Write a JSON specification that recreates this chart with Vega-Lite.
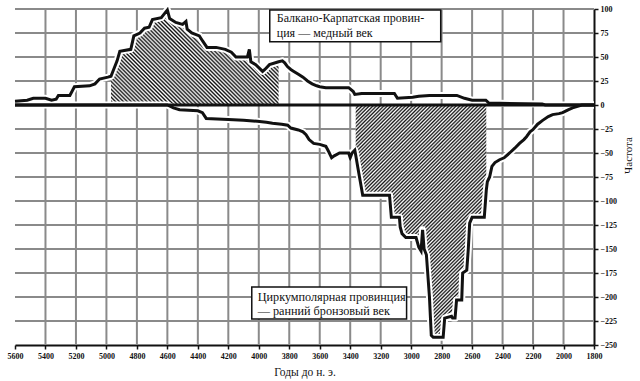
{
  "$schema": "https://vega.github.io/schema/vega-lite/v6.json",
  "width": 579,
  "height": 336,
  "autosize": "none",
  "padding": {"left": 15, "top": 9, "right": 46, "bottom": 36},
  "background": "white",
  "config": {"view": {"stroke": null}},
  "datasets": {
    "gridlines": [
      {"g":"x5400","year":5400,"value":-250},{"g":"x5400","year":5400,"value":100},
      {"g":"x5200","year":5200,"value":-250},{"g":"x5200","year":5200,"value":100},
      {"g":"x5000","year":5000,"value":-250},{"g":"x5000","year":5000,"value":100},
      {"g":"x4800","year":4800,"value":-250},{"g":"x4800","year":4800,"value":100},
      {"g":"x4600","year":4600,"value":-250},{"g":"x4600","year":4600,"value":100},
      {"g":"x4400","year":4400,"value":-250},{"g":"x4400","year":4400,"value":100},
      {"g":"x4200","year":4200,"value":-250},{"g":"x4200","year":4200,"value":100},
      {"g":"x4000","year":4000,"value":-250},{"g":"x4000","year":4000,"value":100},
      {"g":"x3800","year":3800,"value":-250},{"g":"x3800","year":3800,"value":100},
      {"g":"x3600","year":3600,"value":-250},{"g":"x3600","year":3600,"value":100},
      {"g":"x3400","year":3400,"value":-250},{"g":"x3400","year":3400,"value":100},
      {"g":"x3200","year":3200,"value":-250},{"g":"x3200","year":3200,"value":100},
      {"g":"x3000","year":3000,"value":-250},{"g":"x3000","year":3000,"value":100},
      {"g":"x2800","year":2800,"value":-250},{"g":"x2800","year":2800,"value":100},
      {"g":"x2600","year":2600,"value":-250},{"g":"x2600","year":2600,"value":100},
      {"g":"x2400","year":2400,"value":-250},{"g":"x2400","year":2400,"value":100},
      {"g":"x2200","year":2200,"value":-250},{"g":"x2200","year":2200,"value":100},
      {"g":"x2000","year":2000,"value":-250},{"g":"x2000","year":2000,"value":100},
      {"g":"y100","year":5600,"value":100},{"g":"y100","year":1800,"value":100},
      {"g":"y75","year":5600,"value":75},{"g":"y75","year":1800,"value":75},
      {"g":"y50","year":5600,"value":50},{"g":"y50","year":1800,"value":50},
      {"g":"y25","year":5600,"value":25},{"g":"y25","year":1800,"value":25},
      {"g":"y-25","year":5600,"value":-25},{"g":"y-25","year":1800,"value":-25},
      {"g":"y-50","year":5600,"value":-50},{"g":"y-50","year":1800,"value":-50},
      {"g":"y-75","year":5600,"value":-75},{"g":"y-75","year":1800,"value":-75},
      {"g":"y-100","year":5600,"value":-100},{"g":"y-100","year":1800,"value":-100},
      {"g":"y-125","year":5600,"value":-125},{"g":"y-125","year":1800,"value":-125},
      {"g":"y-150","year":5600,"value":-150},{"g":"y-150","year":1800,"value":-150},
      {"g":"y-175","year":5600,"value":-175},{"g":"y-175","year":1800,"value":-175},
      {"g":"y-200","year":5600,"value":-200},{"g":"y-200","year":1800,"value":-200},
      {"g":"y-225","year":5600,"value":-225},{"g":"y-225","year":1800,"value":-225}
    ],
    "lines": [
      {"series":"bk","year":5600,"value":4},{"series":"bk","year":5520,"value":5},{"series":"bk","year":5480,"value":7},{"series":"bk","year":5400,"value":7},{"series":"bk","year":5360,"value":5},{"series":"bk","year":5330,"value":6},{"series":"bk","year":5315,"value":10},{"series":"bk","year":5240,"value":10},{"series":"bk","year":5210,"value":19},{"series":"bk","year":5110,"value":20},{"series":"bk","year":5075,"value":22},{"series":"bk","year":5045,"value":27},{"series":"bk","year":4990,"value":29},{"series":"bk","year":4970,"value":30},{"series":"bk","year":4950,"value":38},{"series":"bk","year":4930,"value":46},{"series":"bk","year":4912,"value":56},{"series":"bk","year":4840,"value":58},{"series":"bk","year":4820,"value":72},{"series":"bk","year":4780,"value":75},{"series":"bk","year":4750,"value":80},{"series":"bk","year":4720,"value":81},{"series":"bk","year":4698,"value":89},{"series":"bk","year":4640,"value":91},{"series":"bk","year":4610,"value":97},{"series":"bk","year":4600,"value":99},{"series":"bk","year":4585,"value":90},{"series":"bk","year":4545,"value":86},{"series":"bk","year":4500,"value":84},{"series":"bk","year":4478,"value":87},{"series":"bk","year":4470,"value":79},{"series":"bk","year":4440,"value":75},{"series":"bk","year":4390,"value":72},{"series":"bk","year":4370,"value":67},{"series":"bk","year":4340,"value":60},{"series":"bk","year":4280,"value":60},{"series":"bk","year":4220,"value":58},{"series":"bk","year":4180,"value":55},{"series":"bk","year":4150,"value":50},{"series":"bk","year":4075,"value":50},{"series":"bk","year":4062,"value":58},{"series":"bk","year":4052,"value":45},{"series":"bk","year":4020,"value":42},{"series":"bk","year":3975,"value":35},{"series":"bk","year":3960,"value":37},{"series":"bk","year":3930,"value":42},{"series":"bk","year":3870,"value":45},{"series":"bk","year":3845,"value":46},{"series":"bk","year":3830,"value":44},{"series":"bk","year":3812,"value":40},{"series":"bk","year":3790,"value":37},{"series":"bk","year":3770,"value":35},{"series":"bk","year":3740,"value":32},{"series":"bk","year":3710,"value":29},{"series":"bk","year":3680,"value":25},{"series":"bk","year":3650,"value":22},{"series":"bk","year":3620,"value":20},{"series":"bk","year":3600,"value":19},{"series":"bk","year":3560,"value":18},{"series":"bk","year":3410,"value":18},{"series":"bk","year":3380,"value":14},{"series":"bk","year":3370,"value":11},{"series":"bk","year":3325,"value":12},{"series":"bk","year":3110,"value":12},{"series":"bk","year":3090,"value":7},{"series":"bk","year":2990,"value":8},{"series":"bk","year":2950,"value":9},{"series":"bk","year":2880,"value":10},{"series":"bk","year":2700,"value":10},{"series":"bk","year":2650,"value":7},{"series":"bk","year":2600,"value":5},{"series":"bk","year":2510,"value":5},{"series":"bk","year":2490,"value":2},{"series":"bk","year":2140,"value":1},{"series":"bk","year":2120,"value":0},{"series":"bk","year":1800,"value":0},
      {"series":"cp","year":5600,"value":0},{"series":"cp","year":4600,"value":0},{"series":"cp","year":4560,"value":-3},{"series":"cp","year":4520,"value":-5},{"series":"cp","year":4400,"value":-6},{"series":"cp","year":4370,"value":-8},{"series":"cp","year":4345,"value":-14},{"series":"cp","year":4200,"value":-15},{"series":"cp","year":4100,"value":-16},{"series":"cp","year":4010,"value":-17},{"series":"cp","year":3950,"value":-18},{"series":"cp","year":3910,"value":-19},{"series":"cp","year":3850,"value":-20},{"series":"cp","year":3810,"value":-21},{"series":"cp","year":3790,"value":-24},{"series":"cp","year":3740,"value":-26},{"series":"cp","year":3710,"value":-28},{"series":"cp","year":3690,"value":-31},{"series":"cp","year":3670,"value":-36},{"series":"cp","year":3640,"value":-40},{"series":"cp","year":3600,"value":-41},{"series":"cp","year":3560,"value":-43},{"series":"cp","year":3540,"value":-49},{"series":"cp","year":3522,"value":-55},{"series":"cp","year":3505,"value":-53},{"series":"cp","year":3470,"value":-50},{"series":"cp","year":3410,"value":-50},{"series":"cp","year":3400,"value":-55},{"series":"cp","year":3388,"value":-50},{"series":"cp","year":3370,"value":-47},{"series":"cp","year":3364,"value":-52},{"series":"cp","year":3350,"value":-65},{"series":"cp","year":3328,"value":-85},{"series":"cp","year":3318,"value":-94},{"series":"cp","year":3142,"value":-94},{"series":"cp","year":3130,"value":-117},{"series":"cp","year":3077,"value":-117},{"series":"cp","year":3072,"value":-127},{"series":"cp","year":3060,"value":-134},{"series":"cp","year":3035,"value":-138},{"series":"cp","year":2968,"value":-138},{"series":"cp","year":2950,"value":-148},{"series":"cp","year":2935,"value":-152},{"series":"cp","year":2925,"value":-130},{"series":"cp","year":2915,"value":-150},{"series":"cp","year":2900,"value":-156},{"series":"cp","year":2880,"value":-200},{"series":"cp","year":2868,"value":-240},{"series":"cp","year":2855,"value":-242},{"series":"cp","year":2790,"value":-242},{"series":"cp","year":2780,"value":-222},{"series":"cp","year":2735,"value":-220},{"series":"cp","year":2728,"value":-222},{"series":"cp","year":2712,"value":-222},{"series":"cp","year":2702,"value":-203},{"series":"cp","year":2668,"value":-203},{"series":"cp","year":2662,"value":-175},{"series":"cp","year":2635,"value":-172},{"series":"cp","year":2625,"value":-150},{"series":"cp","year":2616,"value":-123},{"series":"cp","year":2600,"value":-117},{"series":"cp","year":2520,"value":-117},{"series":"cp","year":2507,"value":-89},{"series":"cp","year":2500,"value":-80},{"series":"cp","year":2485,"value":-75},{"series":"cp","year":2470,"value":-64},{"series":"cp","year":2450,"value":-60},{"series":"cp","year":2420,"value":-57},{"series":"cp","year":2390,"value":-55},{"series":"cp","year":2354,"value":-50},{"series":"cp","year":2320,"value":-45},{"series":"cp","year":2289,"value":-40},{"series":"cp","year":2260,"value":-36},{"series":"cp","year":2243,"value":-33},{"series":"cp","year":2220,"value":-28},{"series":"cp","year":2203,"value":-26},{"series":"cp","year":2170,"value":-20},{"series":"cp","year":2137,"value":-16},{"series":"cp","year":2100,"value":-12},{"series":"cp","year":2072,"value":-10},{"series":"cp","year":2030,"value":-9},{"series":"cp","year":2006,"value":-8},{"series":"cp","year":1970,"value":-5},{"series":"cp","year":1941,"value":-3},{"series":"cp","year":1880,"value":0},{"series":"cp","year":1800,"value":0},
      {"series":"zero","year":5600,"value":0},{"series":"zero","year":1800,"value":0}
    ],
    "boxes": [
      {"box":1,"year":3928,"year2":2806,"value":99,"value2":65.9},
      {"box":2,"year":4046,"year2":3030,"value":-189.6,"value2":-223}
    ],
    "labels": [
      {"box":1,"year":3882,"value":90.6,"text":"Балкано-Карпатская провин-"},
      {"box":1,"year":3882,"value":75,"text":"ция — медный век"},
      {"box":2,"year":4007,"value":-200,"text":"Циркумполярная провинция"},
      {"box":2,"year":4007,"value":-214.6,"text":"— ранний бронзовый век"}
    ]
  },
  "encoding": {
    "x": {
      "field": "year", "type": "quantitative",
      "scale": {"domain": [1800, 5600], "reverse": true, "nice": false, "zero": false},
      "axis": {
        "orient": "bottom",
        "values": [5600,5400,5200,5000,4800,4600,4400,4200,4000,3800,3600,3400,3200,3000,2800,2600,2400,2200,2000,1800],
        "format": "d",
        "labelFlush": false, "labelOverlap": false,
        "labelFont": "Liberation Serif", "labelFontSize": 8, "labelFontWeight": "bold", "labelColor": "#111", "labelPadding": 3,
        "tickSize": 4, "tickWidth": 1.5, "tickColor": "#111",
        "domainColor": "#111", "domainWidth": 2,
        "grid": false,
        "title": "Годы до н. э.", "titleFont": "Liberation Serif", "titleFontSize": 11.5, "titleFontWeight": "normal", "titleColor": "#111", "titlePadding": 6
      }
    },
    "y": {
      "field": "value", "type": "quantitative",
      "scale": {"domain": [-250, 100], "nice": false, "zero": false},
      "axis": {
        "orient": "right",
        "values": [-250,-225,-200,-175,-150,-125,-100,-75,-50,-25,0,25,50,75,100],
        "labelFlush": false, "labelOverlap": false,
        "labelFont": "Liberation Serif", "labelFontSize": 8, "labelFontWeight": "bold", "labelColor": "#111", "labelPadding": 2,
        "tickSize": 4, "tickWidth": 1.5, "tickColor": "#111",
        "domainColor": "#111", "domainWidth": 2,
        "grid": false,
        "title": "Частота", "titleFont": "Liberation Serif", "titleFontSize": 11, "titleFontWeight": "normal", "titleColor": "#111",
        "titleAngle": 270, "titleX": 34, "titleY": 146, "titleAlign": "center", "titleBaseline": "middle"
      }
    }
  },
  "layer": [
    {
      "data": {"name": "gridlines"},
      "mark": {"type": "line", "color": "#8a8a8a", "strokeWidth": 2},
      "encoding": {"detail": {"field": "g"}}
    },
    {
      "data": {"name": "lines"},
      "transform": [{"filter": "datum.series === 'bk' && datum.year <= 4970 && datum.year >= 3870"}],
      "mark": {"type": "area", "line": false, "fill": {"gradient": "linear", "x1": 0, "y1": 1, "x2": 1.186, "y2": 0.33, "stops": [
        {"offset":0,"color":"#111"},{"offset":0.0075,"color":"#fff"},{"offset":0.015,"color":"#111"},{"offset":0.0225,"color":"#fff"},{"offset":0.03,"color":"#111"},{"offset":0.0375,"color":"#fff"},{"offset":0.045,"color":"#111"},{"offset":0.0525,"color":"#fff"},{"offset":0.06,"color":"#111"},{"offset":0.0675,"color":"#fff"},
        {"offset":0.075,"color":"#111"},{"offset":0.0825,"color":"#fff"},{"offset":0.09,"color":"#111"},{"offset":0.0975,"color":"#fff"},{"offset":0.105,"color":"#111"},{"offset":0.1125,"color":"#fff"},{"offset":0.12,"color":"#111"},{"offset":0.1275,"color":"#fff"},{"offset":0.135,"color":"#111"},{"offset":0.1425,"color":"#fff"},
        {"offset":0.15,"color":"#111"},{"offset":0.1575,"color":"#fff"},{"offset":0.165,"color":"#111"},{"offset":0.1725,"color":"#fff"},{"offset":0.18,"color":"#111"},{"offset":0.1875,"color":"#fff"},{"offset":0.195,"color":"#111"},{"offset":0.2025,"color":"#fff"},{"offset":0.21,"color":"#111"},{"offset":0.2175,"color":"#fff"},
        {"offset":0.225,"color":"#111"},{"offset":0.2325,"color":"#fff"},{"offset":0.24,"color":"#111"},{"offset":0.2475,"color":"#fff"},{"offset":0.255,"color":"#111"},{"offset":0.2625,"color":"#fff"},{"offset":0.27,"color":"#111"},{"offset":0.2775,"color":"#fff"},{"offset":0.285,"color":"#111"},{"offset":0.2925,"color":"#fff"},
        {"offset":0.3,"color":"#111"},{"offset":0.3075,"color":"#fff"},{"offset":0.315,"color":"#111"},{"offset":0.3225,"color":"#fff"},{"offset":0.33,"color":"#111"},{"offset":0.3375,"color":"#fff"},{"offset":0.345,"color":"#111"},{"offset":0.3525,"color":"#fff"},{"offset":0.36,"color":"#111"},{"offset":0.3675,"color":"#fff"},
        {"offset":0.375,"color":"#111"},{"offset":0.3825,"color":"#fff"},{"offset":0.39,"color":"#111"},{"offset":0.3975,"color":"#fff"},{"offset":0.405,"color":"#111"},{"offset":0.4125,"color":"#fff"},{"offset":0.42,"color":"#111"},{"offset":0.4275,"color":"#fff"},{"offset":0.435,"color":"#111"},{"offset":0.4425,"color":"#fff"},
        {"offset":0.45,"color":"#111"},{"offset":0.4575,"color":"#fff"},{"offset":0.465,"color":"#111"},{"offset":0.4725,"color":"#fff"},{"offset":0.48,"color":"#111"},{"offset":0.4875,"color":"#fff"},{"offset":0.495,"color":"#111"},{"offset":0.5025,"color":"#fff"},{"offset":0.51,"color":"#111"},{"offset":0.5175,"color":"#fff"},
        {"offset":0.525,"color":"#111"},{"offset":0.5325,"color":"#fff"},{"offset":0.54,"color":"#111"},{"offset":0.5475,"color":"#fff"},{"offset":0.555,"color":"#111"},{"offset":0.5625,"color":"#fff"},{"offset":0.57,"color":"#111"},{"offset":0.5775,"color":"#fff"},{"offset":0.585,"color":"#111"},{"offset":0.5925,"color":"#fff"},
        {"offset":0.6,"color":"#111"},{"offset":0.6075,"color":"#fff"},{"offset":0.615,"color":"#111"},{"offset":0.6225,"color":"#fff"},{"offset":0.63,"color":"#111"},{"offset":0.6375,"color":"#fff"},{"offset":0.645,"color":"#111"},{"offset":0.6525,"color":"#fff"},{"offset":0.66,"color":"#111"},{"offset":0.6675,"color":"#fff"},
        {"offset":0.675,"color":"#111"},{"offset":0.6825,"color":"#fff"},{"offset":0.69,"color":"#111"},{"offset":0.6975,"color":"#fff"},{"offset":0.705,"color":"#111"},{"offset":0.7125,"color":"#fff"},{"offset":0.72,"color":"#111"},{"offset":0.7275,"color":"#fff"},{"offset":0.735,"color":"#111"},{"offset":0.7425,"color":"#fff"},
        {"offset":0.75,"color":"#111"},{"offset":0.7575,"color":"#fff"},{"offset":0.765,"color":"#111"},{"offset":0.7725,"color":"#fff"},{"offset":0.78,"color":"#111"},{"offset":0.7875,"color":"#fff"},{"offset":0.795,"color":"#111"},{"offset":0.8025,"color":"#fff"},{"offset":0.81,"color":"#111"},{"offset":0.8175,"color":"#fff"},
        {"offset":0.825,"color":"#111"},{"offset":0.8325,"color":"#fff"},{"offset":0.84,"color":"#111"},{"offset":0.8475,"color":"#fff"},{"offset":0.855,"color":"#111"},{"offset":0.8625,"color":"#fff"},{"offset":0.87,"color":"#111"},{"offset":0.8775,"color":"#fff"},{"offset":0.885,"color":"#111"},{"offset":0.8925,"color":"#fff"},
        {"offset":0.9,"color":"#111"},{"offset":0.9075,"color":"#fff"},{"offset":0.915,"color":"#111"},{"offset":0.9225,"color":"#fff"},{"offset":0.93,"color":"#111"},{"offset":0.9375,"color":"#fff"},{"offset":0.945,"color":"#111"},{"offset":0.9525,"color":"#fff"},{"offset":0.96,"color":"#111"},{"offset":0.9675,"color":"#fff"},
        {"offset":0.975,"color":"#111"},{"offset":0.9825,"color":"#fff"},{"offset":0.99,"color":"#111"},{"offset":0.9975,"color":"#fff"},{"offset":1,"color":"#111"}
      ]}},
      "encoding": {"y2": {"datum": 0}}
    },
    {
      "data": {"name": "lines"},
      "transform": [{"filter": "datum.series === 'cp' && datum.year <= 3364 && datum.year >= 2507"}],
      "mark": {"type": "area", "line": false, "fill": {"gradient": "linear", "x1": 0, "y1": 0, "x2": 0.6685, "y2": 1.1866, "stops": [
        {"offset":0,"color":"#111"},{"offset":0.005,"color":"#fff"},{"offset":0.01,"color":"#111"},{"offset":0.015,"color":"#fff"},{"offset":0.02,"color":"#111"},{"offset":0.025,"color":"#fff"},{"offset":0.03,"color":"#111"},{"offset":0.035,"color":"#fff"},{"offset":0.04,"color":"#111"},{"offset":0.045,"color":"#fff"},
        {"offset":0.05,"color":"#111"},{"offset":0.055,"color":"#fff"},{"offset":0.06,"color":"#111"},{"offset":0.065,"color":"#fff"},{"offset":0.07,"color":"#111"},{"offset":0.075,"color":"#fff"},{"offset":0.08,"color":"#111"},{"offset":0.085,"color":"#fff"},{"offset":0.09,"color":"#111"},{"offset":0.095,"color":"#fff"},
        {"offset":0.1,"color":"#111"},{"offset":0.105,"color":"#fff"},{"offset":0.11,"color":"#111"},{"offset":0.115,"color":"#fff"},{"offset":0.12,"color":"#111"},{"offset":0.125,"color":"#fff"},{"offset":0.13,"color":"#111"},{"offset":0.135,"color":"#fff"},{"offset":0.14,"color":"#111"},{"offset":0.145,"color":"#fff"},
        {"offset":0.15,"color":"#111"},{"offset":0.155,"color":"#fff"},{"offset":0.16,"color":"#111"},{"offset":0.165,"color":"#fff"},{"offset":0.17,"color":"#111"},{"offset":0.175,"color":"#fff"},{"offset":0.18,"color":"#111"},{"offset":0.185,"color":"#fff"},{"offset":0.19,"color":"#111"},{"offset":0.195,"color":"#fff"},
        {"offset":0.2,"color":"#111"},{"offset":0.205,"color":"#fff"},{"offset":0.21,"color":"#111"},{"offset":0.215,"color":"#fff"},{"offset":0.22,"color":"#111"},{"offset":0.225,"color":"#fff"},{"offset":0.23,"color":"#111"},{"offset":0.235,"color":"#fff"},{"offset":0.24,"color":"#111"},{"offset":0.245,"color":"#fff"},
        {"offset":0.25,"color":"#111"},{"offset":0.255,"color":"#fff"},{"offset":0.26,"color":"#111"},{"offset":0.265,"color":"#fff"},{"offset":0.27,"color":"#111"},{"offset":0.275,"color":"#fff"},{"offset":0.28,"color":"#111"},{"offset":0.285,"color":"#fff"},{"offset":0.29,"color":"#111"},{"offset":0.295,"color":"#fff"},
        {"offset":0.3,"color":"#111"},{"offset":0.305,"color":"#fff"},{"offset":0.31,"color":"#111"},{"offset":0.315,"color":"#fff"},{"offset":0.32,"color":"#111"},{"offset":0.325,"color":"#fff"},{"offset":0.33,"color":"#111"},{"offset":0.335,"color":"#fff"},{"offset":0.34,"color":"#111"},{"offset":0.345,"color":"#fff"},
        {"offset":0.35,"color":"#111"},{"offset":0.355,"color":"#fff"},{"offset":0.36,"color":"#111"},{"offset":0.365,"color":"#fff"},{"offset":0.37,"color":"#111"},{"offset":0.375,"color":"#fff"},{"offset":0.38,"color":"#111"},{"offset":0.385,"color":"#fff"},{"offset":0.39,"color":"#111"},{"offset":0.395,"color":"#fff"},
        {"offset":0.4,"color":"#111"},{"offset":0.405,"color":"#fff"},{"offset":0.41,"color":"#111"},{"offset":0.415,"color":"#fff"},{"offset":0.42,"color":"#111"},{"offset":0.425,"color":"#fff"},{"offset":0.43,"color":"#111"},{"offset":0.435,"color":"#fff"},{"offset":0.44,"color":"#111"},{"offset":0.445,"color":"#fff"},
        {"offset":0.45,"color":"#111"},{"offset":0.455,"color":"#fff"},{"offset":0.46,"color":"#111"},{"offset":0.465,"color":"#fff"},{"offset":0.47,"color":"#111"},{"offset":0.475,"color":"#fff"},{"offset":0.48,"color":"#111"},{"offset":0.485,"color":"#fff"},{"offset":0.49,"color":"#111"},{"offset":0.495,"color":"#fff"},
        {"offset":0.5,"color":"#111"},{"offset":0.505,"color":"#fff"},{"offset":0.51,"color":"#111"},{"offset":0.515,"color":"#fff"},{"offset":0.52,"color":"#111"},{"offset":0.525,"color":"#fff"},{"offset":0.53,"color":"#111"},{"offset":0.535,"color":"#fff"},{"offset":0.54,"color":"#111"},{"offset":0.545,"color":"#fff"},
        {"offset":0.55,"color":"#111"},{"offset":0.555,"color":"#fff"},{"offset":0.56,"color":"#111"},{"offset":0.565,"color":"#fff"},{"offset":0.57,"color":"#111"},{"offset":0.575,"color":"#fff"},{"offset":0.58,"color":"#111"},{"offset":0.585,"color":"#fff"},{"offset":0.59,"color":"#111"},{"offset":0.595,"color":"#fff"},
        {"offset":0.6,"color":"#111"},{"offset":0.605,"color":"#fff"},{"offset":0.61,"color":"#111"},{"offset":0.615,"color":"#fff"},{"offset":0.62,"color":"#111"},{"offset":0.625,"color":"#fff"},{"offset":0.63,"color":"#111"},{"offset":0.635,"color":"#fff"},{"offset":0.64,"color":"#111"},{"offset":0.645,"color":"#fff"},
        {"offset":0.65,"color":"#111"},{"offset":0.655,"color":"#fff"},{"offset":0.66,"color":"#111"},{"offset":0.665,"color":"#fff"},{"offset":0.67,"color":"#111"},{"offset":0.675,"color":"#fff"},{"offset":0.68,"color":"#111"},{"offset":0.685,"color":"#fff"},{"offset":0.69,"color":"#111"},{"offset":0.695,"color":"#fff"},
        {"offset":0.7,"color":"#111"},{"offset":0.705,"color":"#fff"},{"offset":0.71,"color":"#111"},{"offset":0.715,"color":"#fff"},{"offset":0.72,"color":"#111"},{"offset":0.725,"color":"#fff"},{"offset":0.73,"color":"#111"},{"offset":0.735,"color":"#fff"},{"offset":0.74,"color":"#111"},{"offset":0.745,"color":"#fff"},
        {"offset":0.75,"color":"#111"},{"offset":0.755,"color":"#fff"},{"offset":0.76,"color":"#111"},{"offset":0.765,"color":"#fff"},{"offset":0.77,"color":"#111"},{"offset":0.775,"color":"#fff"},{"offset":0.78,"color":"#111"},{"offset":0.785,"color":"#fff"},{"offset":0.79,"color":"#111"},{"offset":0.795,"color":"#fff"},
        {"offset":0.8,"color":"#111"},{"offset":0.805,"color":"#fff"},{"offset":0.81,"color":"#111"},{"offset":0.815,"color":"#fff"},{"offset":0.82,"color":"#111"},{"offset":0.825,"color":"#fff"},{"offset":0.83,"color":"#111"},{"offset":0.835,"color":"#fff"},{"offset":0.84,"color":"#111"},{"offset":0.845,"color":"#fff"},
        {"offset":0.85,"color":"#111"},{"offset":0.855,"color":"#fff"},{"offset":0.86,"color":"#111"},{"offset":0.865,"color":"#fff"},{"offset":0.87,"color":"#111"},{"offset":0.875,"color":"#fff"},{"offset":0.88,"color":"#111"},{"offset":0.885,"color":"#fff"},{"offset":0.89,"color":"#111"},{"offset":0.895,"color":"#fff"},
        {"offset":0.9,"color":"#111"},{"offset":0.905,"color":"#fff"},{"offset":0.91,"color":"#111"},{"offset":0.915,"color":"#fff"},{"offset":0.92,"color":"#111"},{"offset":0.925,"color":"#fff"},{"offset":0.93,"color":"#111"},{"offset":0.935,"color":"#fff"},{"offset":0.94,"color":"#111"},{"offset":0.945,"color":"#fff"},
        {"offset":0.95,"color":"#111"},{"offset":0.955,"color":"#fff"},{"offset":0.96,"color":"#111"},{"offset":0.965,"color":"#fff"},{"offset":0.97,"color":"#111"},{"offset":0.975,"color":"#fff"},{"offset":0.98,"color":"#111"},{"offset":0.985,"color":"#fff"},{"offset":0.99,"color":"#111"},{"offset":0.995,"color":"#fff"},
        {"offset":1,"color":"#111"}
      ]}},
      "encoding": {"y2": {"datum": 0}}
    },
    {
      "data": {"name": "lines"},
      "transform": [{"filter": "datum.series !== 'zero'"}],
      "mark": {"type": "line", "color": "#fff", "strokeWidth": 7, "strokeJoin": "round"},
      "encoding": {"detail": {"field": "series"}}
    },
    {
      "data": {"name": "lines"},
      "mark": {"type": "line", "color": "#111", "strokeWidth": 3, "strokeJoin": "miter"},
      "encoding": {"detail": {"field": "series"}}
    },
    {
      "data": {"name": "boxes"},
      "mark": {"type": "rect", "fill": "#fff", "stroke": "#111", "strokeWidth": 1.5},
      "encoding": {"x2": {"field": "year2"}, "y2": {"field": "value2"}}
    },
    {
      "data": {"name": "labels"},
      "transform": [{"filter": "datum.box === 1"}],
      "mark": {"type": "text", "align": "left", "baseline": "middle", "font": "Liberation Serif", "fontSize": 12, "color": "#111"},
      "encoding": {"text": {"field": "text"}}
    },
    {
      "data": {"name": "labels"},
      "transform": [{"filter": "datum.box === 2"}],
      "mark": {"type": "text", "align": "left", "baseline": "middle", "font": "Liberation Serif", "fontSize": 12.2, "color": "#111"},
      "encoding": {"text": {"field": "text"}}
    }
  ]
}
